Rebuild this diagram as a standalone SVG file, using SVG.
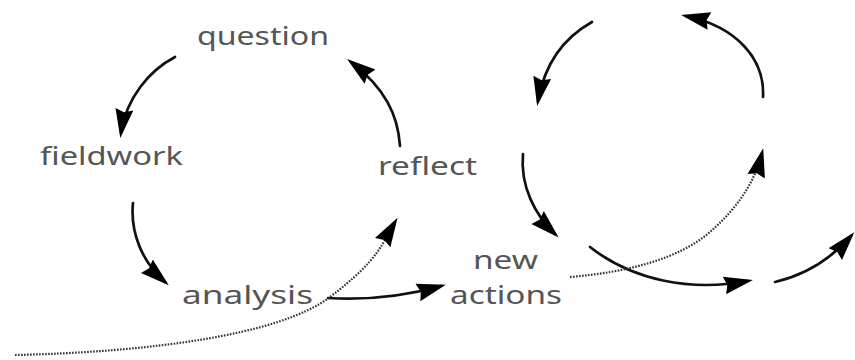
<svg xmlns="http://www.w3.org/2000/svg" width="855" height="360" viewBox="0 0 855 360">
  <style>
    .label { font-family: "Noto Sans", "DejaVu Sans", sans-serif; font-size: 25px; fill: #555; }
    .flow { fill: none; stroke: #111; stroke-width: 2.7; stroke-linecap: round; }
    .trace { fill: none; stroke: #333; stroke-width: 2.2; stroke-dasharray: 1.6 1.4; }
  </style>
  <defs>
    <marker id="head" viewBox="0 -12 34 24" markerUnits="userSpaceOnUse" markerWidth="34" markerHeight="24" refX="24" refY="0" orient="auto">
      <path d="M0,-9 L29,0 L0,9 L3,0 Z" fill="#000"/>
    </marker>
  </defs>
  <rect width="855" height="360" fill="#fff"/>

  <!-- left cycle labels -->
  <g id="question"><text class="label" x="197" y="45" textLength="132" lengthAdjust="spacingAndGlyphs">question</text></g>
  <g id="fieldwork"><text class="label" x="40" y="165" textLength="143" lengthAdjust="spacingAndGlyphs">fieldwork</text></g>
  <g id="reflect"><text class="label" x="378" y="175" textLength="99" lengthAdjust="spacingAndGlyphs">reflect</text></g>
  <g id="analysis"><text class="label" x="182" y="304" textLength="131" lengthAdjust="spacingAndGlyphs">analysis</text></g>
  <g id="new-actions">
    <text class="label" x="473" y="269" textLength="65" lengthAdjust="spacingAndGlyphs">new</text>
    <text class="label" x="450" y="304" textLength="112" lengthAdjust="spacingAndGlyphs">actions</text>
  </g>

  <g id="connectors">
    <!-- first cycle -->
    <path class="flow" marker-end="url(#head)" d="M175,57 C150,70 126,98 121,133"/>
    <path class="flow" marker-end="url(#head)" d="M133,203 C130,232 142,262 165,282"/>
    <path class="flow" marker-end="url(#head)" d="M400,146 C398,115 385,88 351,62"/>
    <path class="flow" marker-end="url(#head)" d="M328,298 C362,300 402,297 441,286"/>
    <path class="trace" marker-end="url(#head)" d="M15,355 C150,352 280,335 330,297 S383,242 395,222"/>

    <!-- second cycle -->
    <path class="flow" marker-end="url(#head)" d="M592,22 C565,37 545,62 538,101"/>
    <path class="flow" marker-end="url(#head)" d="M763,97 C765,60 738,27 686,16"/>
    <path class="flow" marker-end="url(#head)" d="M523,154 C520,186 535,215 555,234"/>
    <path class="flow" marker-end="url(#head)" d="M590,247 C632,280 690,292 748,281"/>
    <path class="flow" marker-end="url(#head)" d="M775,282 C805,275 830,260 851,236"/>
    <path class="trace" marker-end="url(#head)" d="M570,277 C630,272 680,258 710,232 C735,210 754,185 762,153"/>
  </g>
</svg>
